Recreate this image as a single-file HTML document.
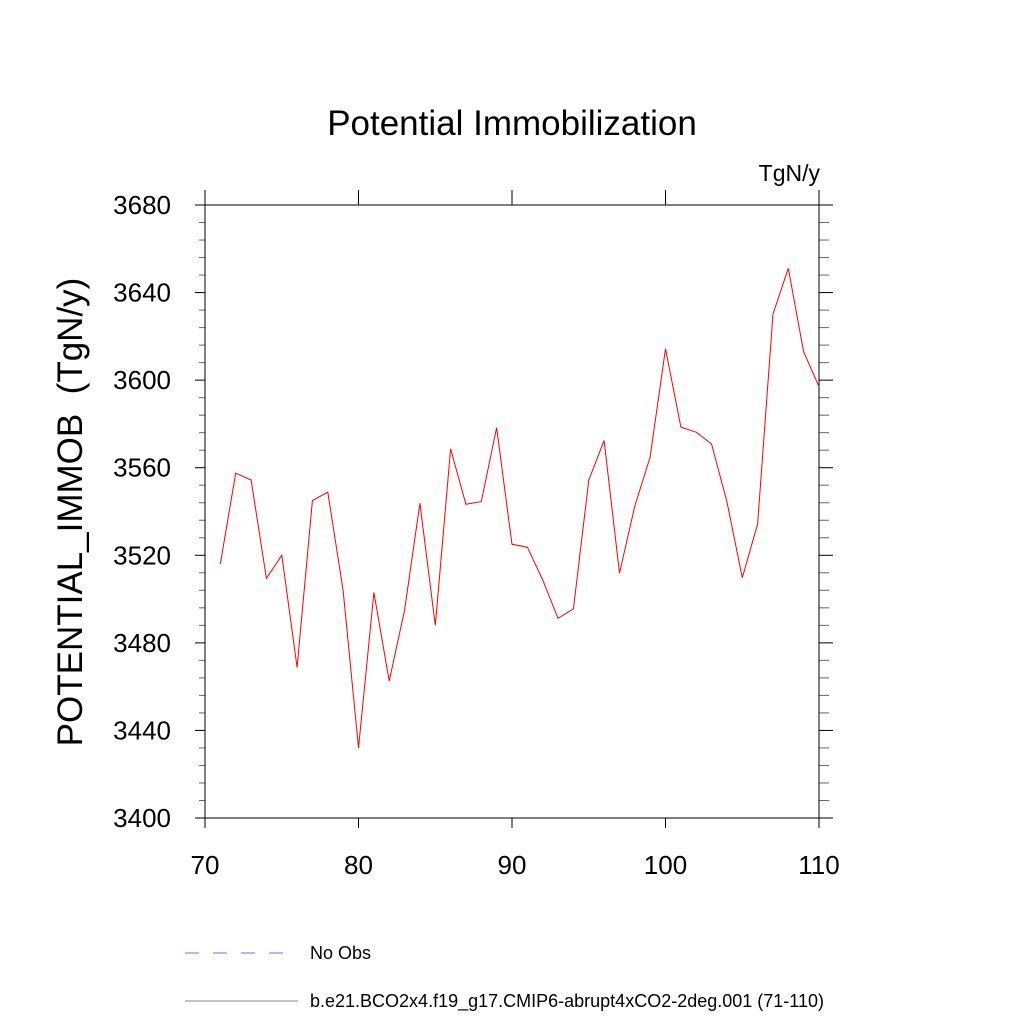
<!DOCTYPE html>
<html><head><meta charset="utf-8"><style>
html,body{margin:0;padding:0;background:#fff;}
svg{display:block;font-family:"Liberation Sans",sans-serif;}
</style></head><body>
<svg id="chart" width="1024" height="1024">
<text x="512" y="135" font-size="35" text-anchor="middle">Potential Immobilization</text>
<text x="820" y="181" font-size="23" text-anchor="end">TgN/y</text>
<text transform="translate(82,512) rotate(-90)" font-size="35" text-anchor="middle" xml:space="preserve">POTENTIAL_IMMOB  (TgN/y)</text>
<g id="axes"></g>
<g id="series"></g>
<g>
<line x1="185" y1="953" x2="292" y2="953" stroke="#6a6aff" stroke-width="1" stroke-dasharray="14,14"/>
<text x="310" y="959" font-size="18">No Obs</text>
<line x1="185" y1="1001" x2="298" y2="1001" stroke="#888" stroke-width="1"/>
<text x="310" y="1007" font-size="18">b.e21.BCO2x4.f19_g17.CMIP6-abrupt4xCO2-2deg.001 (71-110)</text>
</g>
</svg>
<script>
const years=[71,72,73,74,75,76,77,78,79,80,81,82,83,84,85,86,87,88,89,90,91,92,93,94,95,96,97,98,99,100,101,102,103,104,105,106,107,108,109,110];
const values=[3516,3557.5,3554.4,3509.5,3520,3468.8,3545,3548.8,3504,3432,3503,3462.6,3495,3543.8,3488,3568.6,3543.3,3544.5,3578.3,3525,3523.7,3508.7,3491.2,3495.5,3554.4,3572.4,3511.8,3542.5,3564.8,3614.3,3578.5,3576.2,3570.9,3544.5,3509.7,3534.3,3630.2,3651.1,3613,3597];
const xTicks=[70,80,90,100,110];
const yTicks=[3400,3440,3480,3520,3560,3600,3640,3680];
const NS='http://www.w3.org/2000/svg';
const L=205,R=819,T=205,B=818;
const xs=v=>L+(v-70)/40*(R-L);
const ys=v=>B-(v-3400)/280*(B-T);
const ax=document.getElementById('axes');
function mk(tag,at,parent){const e=document.createElementNS(NS,tag);for(const k in at)e.setAttribute(k,at[k]);parent.appendChild(e);return e;}
const box=mk('rect',{x:L,y:T,width:R-L,height:B-T,fill:'none',stroke:'#000','stroke-width':1},ax);


xTicks.forEach(v=>{
  const x=xs(v);
  const t1=mk('line',{x1:x,y1:B,x2:x,y2:B+10,stroke:'#000'},ax);
  
  
  const t2=mk('line',{x1:x,y1:T,x2:x,y2:T-15,stroke:'#000'},ax);
  
  
  const lb=mk('text',{x:x,y:874,'font-size':26,'text-anchor':'middle'},ax);
  lb.textContent=v;
  
  
});
for(let v=3400;v<=3680;v+=8){
  const y=ys(v);const major=(v-3400)%40===0;const len=major?10:6;
  const a=mk('line',{x1:L-len,y1:y,x2:L,y2:y,stroke:major?'#000':'#666'},ax);
  
  
  const b=mk('line',{x1:R,y1:y,x2:R+len+4,y2:y,stroke:major?'#000':'#666'},ax);
  
  
}
yTicks.forEach(v=>{
  const lb=mk('text',{x:171,y:ys(v)+9,'font-size':26,'text-anchor':'end'},ax);
  lb.textContent=v;
  
  
});
const ext1=mk('line',{x1:L,y1:T-15,x2:L,y2:B+10,stroke:'#000'},ax);


const ext2=mk('line',{x1:R,y1:T-15,x2:R,y2:B+10,stroke:'#000'},ax);


const pts=years.map((yr,i)=>xs(yr).toFixed(1)+','+ys(values[i]).toFixed(1)).join(' ');
const line=mk('polyline',{points:pts,fill:'none',stroke:'#ff0000','stroke-width':1},document.getElementById('series'));


</script>
</body></html>
